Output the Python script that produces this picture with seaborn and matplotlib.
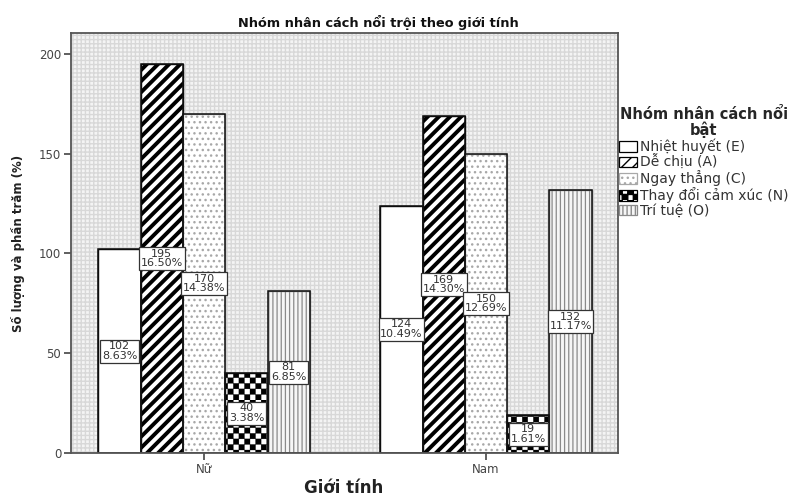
import matplotlib
matplotlib.use("Agg")
import numpy as np
import matplotlib.pyplot as plt
import matplotlib.hatch as mhatch
from matplotlib.path import Path
from matplotlib.patches import Patch, Rectangle
import pandas as pd
import seaborn as sns

# Data
genders = ["Nữ", "Nam"]
groups = ["Nhiệt huyết (E)", "Dễ chịu (A)", "Ngay thẳng (C)",
          "Thay đổi cảm xúc (N)", "Trí tuệ (O)"]
counts_nu = [102, 195, 170, 40, 81]
counts_nam = [124, 169, 150, 19, 132]
pct_nu = ["8.63%", "16.50%", "14.38%", "3.38%", "6.85%"]
pct_nam = ["10.49%", "14.30%", "12.69%", "1.61%", "11.17%"]

rows = []
for g, vals, pcts in [("Nữ", counts_nu, pct_nu), ("Nam", counts_nam, pct_nam)]:
    for grp, v, p in zip(groups, vals, pcts):
        rows.append({"gender": g, "group": grp, "count": v, "pct": p})
df = pd.DataFrame(rows)


class CheckerHatch(mhatch.HatchPatternBase):
    """Filled checkerboard hatch, selected with the character 'c'."""

    def __init__(self, hatch, density):
        self.n = int(hatch.count("c") * density)
        if self.n:
            self.cells = [(i, j) for i in range(self.n) for j in range(self.n)
                          if (i + j) % 2 == 0]
        else:
            self.cells = []
        self.num_vertices = len(self.cells) * 5

    def set_vertices_and_codes(self, vertices, codes):
        s = 1.0 / self.n
        sq = np.array([[0, 0], [s, 0], [s, s], [0, s], [0, 0]])
        sq_codes = [Path.MOVETO, Path.LINETO, Path.LINETO, Path.LINETO,
                    Path.CLOSEPOLY]
        for k, (i, j) in enumerate(self.cells):
            vertices[k * 5:(k + 1) * 5] = sq + [i * s, j * s]
            codes[k * 5:(k + 1) * 5] = sq_codes


mhatch._hatch_types.append(CheckerHatch)

sns.set_style("white")
plt.rcParams["font.family"] = ["DejaVu Sans"]
plt.rcParams["hatch.linewidth"] = 1.0

fig = plt.figure(figsize=(8.07, 5.0), dpi=100)
ax = fig.add_axes([71 / 807, 47 / 500, (618 - 71) / 807, (453 - 33) / 500])

# Textured light-grey plot background
ax.set_facecolor("#f4f4f4")
ax.patch.set_hatch("++++")
ax.patch.set_edgecolor("#d8d8d8")
ax.patch.set_linewidth(0)

sns.barplot(data=df, x="gender", y="count", hue="group", order=genders,
            hue_order=groups, width=0.75, palette=["white"] * 5,
            edgecolor="black", linewidth=1.0, legend=False, ax=ax, saturation=1)

styles = [
    dict(face="white", hatch=None, hcolor="black", hlw=1.0),
    dict(face="white", hatch="///", hcolor="black", hlw=2.8),
    dict(face="white", hatch="...", hcolor="#a8a8a8", hlw=1.0),
    dict(face="white", hatch="ccc", hcolor="black", hlw=0.2),
    dict(face="#f6f6f6", hatch="||||", hcolor="#8a8a8a", hlw=0.9),
]


def style_patch(p, st):
    p.set_facecolor(st["face"])
    if st["hatch"]:
        try:
            p.set_hatch(st["hatch"])
        except ValueError:
            p.set_hatch("xx")
        p.set_edgecolor(st["hcolor"])
        if hasattr(p, "set_hatch_linewidth"):
            p.set_hatch_linewidth(st["hlw"])


for cont, st in zip(ax.containers, styles):
    for bar in cont:
        style_patch(bar, st)
        # black outline on top of the hatch
        ax.add_patch(Rectangle(bar.get_xy(), bar.get_width(), bar.get_height(),
                               fill=False, edgecolor="#111111", linewidth=1.1,
                               zorder=bar.get_zorder() + 0.1))

# Value labels in the middle of each bar
for cont, grp in zip(ax.containers, groups):
    for bar, g in zip(cont, genders):
        r = df[(df.gender == g) & (df.group == grp)].iloc[0]
        ax.text(bar.get_x() + bar.get_width() / 2, r["count"] / 2,
                f"{r['count']}\n{r['pct']}", ha="center", va="center",
                fontsize=8, color="#333333", linespacing=0.95, zorder=5,
                bbox=dict(boxstyle="square,pad=0.15", facecolor="white",
                          edgecolor="#333333", linewidth=0.9))

ax.set_ylim(0, 210.5)
ax.set_xlim(-0.472, 1.468)
ax.set_yticks([0, 50, 100, 150, 200])
ax.tick_params(axis="both", direction="out", length=5, width=1.2,
               colors="#444444", labelsize=8.5, left=True, bottom=True, pad=2)
for s in ax.spines.values():
    s.set_color("#555555")
    s.set_linewidth(1.3)

ax.set_xlabel("")
fig.text(344 / 807, 1 - 488 / 500, "Giới tính", ha="center", va="center",
         fontsize=12, fontweight="bold", color="#222222")
ax.set_ylabel("Số lượng và phần trăm (%)", fontsize=8.5, fontweight="bold",
              color="#222222", labelpad=10)
fig.text(378 / 807, 1 - 23 / 500, "Nhóm nhân cách nổi trội theo giới tính",
         ha="center", va="center", fontsize=9.3, fontweight="bold",
         color="#111111")

handles = []
for st in styles:
    h = Patch(facecolor=st["face"], edgecolor=st["hcolor"] if st["hatch"] else "black",
              hatch=st["hatch"], linewidth=0.9)
    handles.append(h)
leg = fig.legend(handles, groups, title="Nhóm nhân cách nổi\nbật",
                 loc="upper left", bbox_to_anchor=(619 / 807, 1 - 107 / 500),
                 frameon=False, fontsize=10, title_fontsize=10.5,
                 handlelength=1.3, handleheight=0.8, handletextpad=0.2,
                 labelspacing=0.05, borderaxespad=0, borderpad=0)
leg.get_title().set_fontweight("bold")
leg.get_title().set_multialignment("center")
leg.get_title().set_linespacing(0.95)
for t in leg.get_texts():
    t.set_color("#333333")

fig.savefig("out.png", dpi=100)
